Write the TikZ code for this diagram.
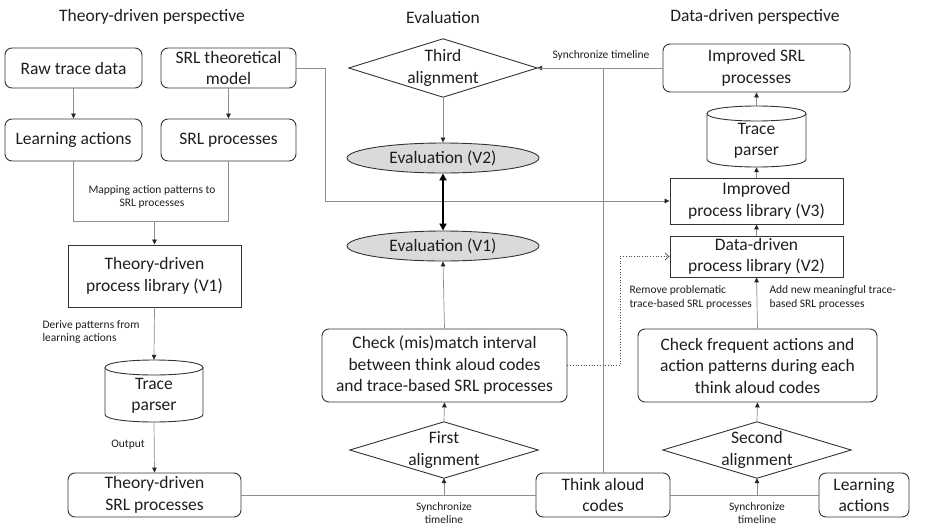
\documentclass[tikz,border=0pt]{standalone}
\usepackage{fontspec}
\setmainfont{Carlito}
\usetikzlibrary{arrows.meta,shapes.geometric,calc}
\definecolor{txt}{HTML}{1E1E1E}
\definecolor{bord}{HTML}{333333}
\definecolor{conn}{HTML}{8E8E8E}
\definecolor{evfill}{HTML}{DADADA}
\tikzset{
  big/.style={font=\fontsize{17.5}{21.5}\selectfont, text=txt, align=center},
  small/.style={font=\fontsize{11.5}{13.5}\selectfont, text=txt},
  rbox/.style={big, draw=bord, line width=0.9pt, rounded corners=7pt, inner sep=0pt},
  sbox/.style={big, draw=bord, line width=0.9pt, inner sep=0pt},
  ghost/.style={big, inner sep=0pt},
  evnode/.style={big, ellipse, draw=bord, line width=0.9pt, fill=evfill, inner sep=0pt},
  shapeline/.style={draw=bord, line width=0.9pt},
  conline/.style={draw=conn, line width=0.7pt},
  arr/.style={conline, -{Triangle[length=5pt,width=4.5pt,color=black!85]}},
  title/.style={font=\fontsize{17.5}{21.5}\selectfont, text=txt}
}
\begin{document}
\begin{tikzpicture}[x=1pt,y=-1pt]
\useasboundingbox (0,0) rectangle (930,528);

% titles
\node[title] (t1) at (152,17) {Theory-driven perspective};
\node[title] (t2) at (443,17) {Evaluation};
\node[title] (t3) at (755,17) {Data-driven perspective};

% left column
\node[rbox, minimum width=137, minimum height=40] (rawtrace) at (73.5,68) {Raw trace data};
\node[rbox, minimum width=135, minimum height=40] (srlmodel) at (228.5,68) {SRL theoretical\\model};
\node[rbox, minimum width=137, minimum height=42] (learnL) at (73.5,140) {Learning actions};
\node[rbox, minimum width=135, minimum height=42] (srlproc) at (228.5,140) {SRL processes};
\node[sbox, minimum width=173, minimum height=62] (lib1) at (154.5,276) {Theory-driven\\process library (V1)};
\node[ghost, minimum width=98, minimum height=62] (tp1) at (154,391) {};
\node[ghost] (tp1t) at (154,396) {Trace\\parser};
\node[rbox, minimum width=173, minimum height=44] (tsrl) at (154.5,495) {Theory-driven\\SRL processes};

% cylinder 1
\draw[shapeline] (105,367.5) .. controls (105,357.5) and (203,357.5) .. (203,367.5)
  .. controls (203,377.5) and (105,377.5) .. (105,367.5);
\draw[shapeline] (105,367.5) -- (105,414.5) .. controls (105,424.5) and (203,424.5) .. (203,414.5) -- (203,367.5);

% middle column
\node[ghost, minimum width=188, minimum height=58] (third) at (443,68) {Third\\alignment};
\draw[shapeline] (third.north) -- (third.east) -- (third.south) -- (third.west) -- cycle;
\node[evnode, minimum width=192, minimum height=30] (ev2) at (443,158) {Evaluation (V2)};
\node[evnode, minimum width=192, minimum height=30] (ev1) at (443,246) {Evaluation (V1)};
\node[rbox, minimum width=245, minimum height=73] (check1) at (444.5,365.5) {Check (mis)match interval\\between think aloud codes\\and trace-based SRL processes};
\node[ghost, minimum width=188, minimum height=56] (first) at (444,450) {First\\alignment};
\draw[shapeline] (first.north) -- (first.east) -- (first.south) -- (first.west) -- cycle;
\node[rbox, minimum width=134, minimum height=44] (think) at (603,495) {Think aloud\\codes};

% right column
\node[rbox, minimum width=187, minimum height=48] (impsrl) at (756.5,68) {Improved SRL\\processes};
\node[ghost, minimum width=99, minimum height=61] (tp2) at (756.5,136.5) {};
\node[ghost] (tp2t) at (756.5,141) {Trace\\parser};
\node[sbox, minimum width=173, minimum height=46] (lib3) at (756.5,201) {Improved\\process library (V3)};
\node[sbox, minimum width=173, minimum height=41] (lib2) at (756.5,256.5) {Data-driven\\process library (V2)};
\node[rbox, minimum width=239, minimum height=73] (check2) at (757.5,365.5) {Check frequent actions and\\action patterns during each\\think aloud codes};
\node[ghost, minimum width=188, minimum height=56] (second) at (757,450) {Second\\alignment};
\draw[shapeline] (second.north) -- (second.east) -- (second.south) -- (second.west) -- cycle;
\node[rbox, minimum width=90, minimum height=44] (learnR) at (864,495) {Learning\\actions};

% cylinder 2
\draw[shapeline] (707,113.5) .. controls (707,103.5) and (806,103.5) .. (806,113.5)
  .. controls (806,123.5) and (707,123.5) .. (707,113.5);
\draw[shapeline] (707,113.5) -- (707,159.5) .. controls (707,169.5) and (806,169.5) .. (806,159.5) -- (806,113.5);

% labels
\node[small, align=center] (lmap) at (152,197) {Mapping action patterns to\\SRL processes};
\node[small, align=left, anchor=west] (lderive) at (39,332) {Derive patterns from\\learning actions};
\node[small] (lout) at (128,445) {Output};
\node[small] (lsync3) at (601,55) {Synchronize timeline};
\node[small, align=center] (lsync1) at (444,513) {Synchronize\\timeline};
\node[small, align=center] (lsync2) at (757,513) {Synchronize\\timeline};
\node[small, align=left, anchor=west] (lremove) at (626,297.5) {Remove problematic\\trace-based SRL processes};
\node[small, align=left, anchor=west] (ladd) at (766,297.5) {Add new meaningful trace-\\based SRL processes};

% coordinates
\coordinate (mapj) at (154.5,221);
\coordinate (bend1) at (325,68);
\coordinate (sync1) at (first.south |- tsrl.east);
\coordinate (sync2) at (second.south |- think.east);
\coordinate (dot1) at (620,365.5);

% connectors left
\draw[arr] (rawtrace) -- (learnL);
\draw[arr] (srlmodel) -- (srlproc);
\draw[conline] (learnL.south) |- (mapj);
\draw[conline] (srlproc.south) |- (mapj);
\draw[arr] (mapj) -- (lib1.north);
\draw[arr] (lib1.south) -- (tp1.north);
\draw[arr] (tp1.south) -- (tsrl.north);

% long connectors
\draw[conline] (srlmodel.east) -- (bend1);
\draw[arr] (bend1) |- (lib3.west);
\draw[conline] (tsrl.east) -- (think.west);
\draw[conline] (think.east) -- (learnR.west);
\draw[arr] (sync1) -- (first.south);
\draw[arr] (sync2) -- (second.south);
\draw[arr] (think.north) |- (third.east);
\draw[conline] (impsrl.west) -- (third.east);

% middle connectors
\draw[arr] (third.south) -- (ev2.north);
\draw[black, line width=2.6pt, {Triangle[length=7pt,width=7pt]}-{Triangle[length=7pt,width=7pt]}] (ev2.south) -- (ev1.north);
\draw[arr] (check1.north) -- (ev1.south);
\draw[arr] (first.north) -- (check1.south);
\draw[draw=black!70, line width=0.7pt, dotted, -{Straight Barb[length=4pt,width=7pt]}] (check1.east) -- (dot1) |- (lib2.west);

% right connectors
\draw[arr] (check2.north) -- (lib2.south);
\draw[arr] (lib2.north) -- (lib3.south);
\draw[arr] (lib3.north) -- (tp2.south);
\draw[arr] (tp2.north) -- (impsrl.south);
\draw[arr] (second.north) -- (check2.south);
\end{tikzpicture}
\end{document}
